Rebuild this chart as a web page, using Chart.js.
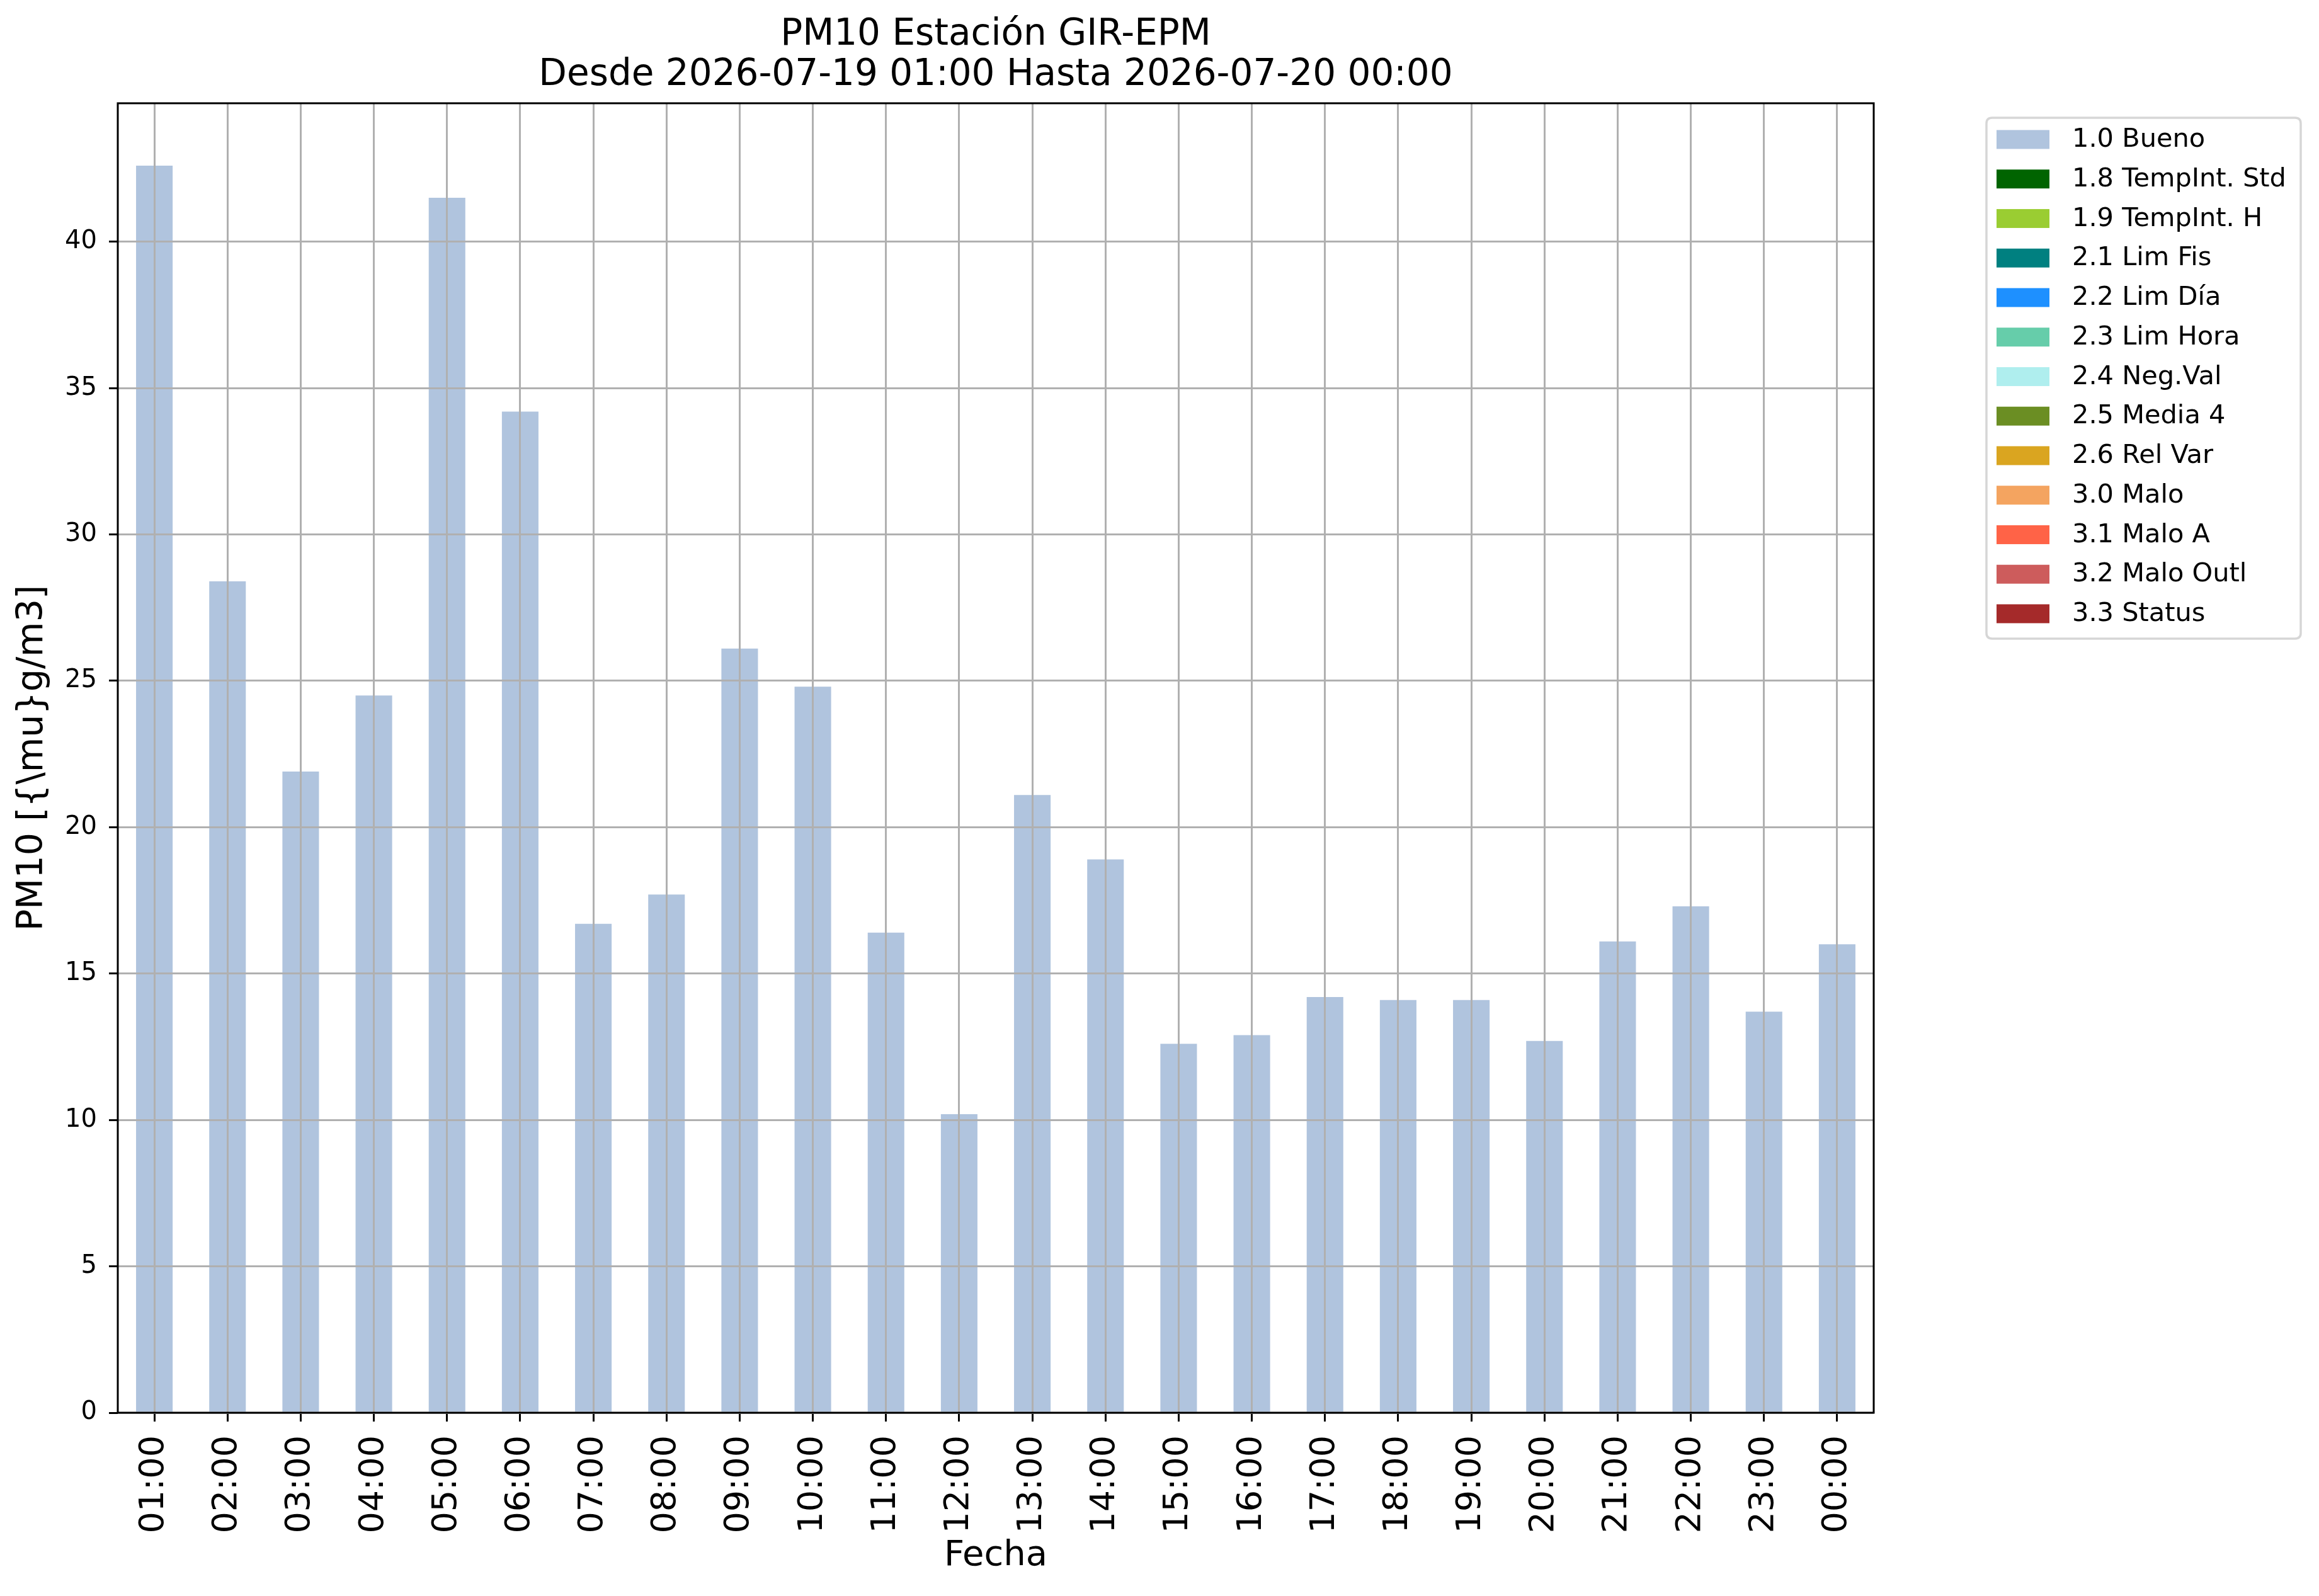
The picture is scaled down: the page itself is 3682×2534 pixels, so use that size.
<!DOCTYPE html>
<html>
<head>
<meta charset="utf-8">
<script src="https://cdn.jsdelivr.net/npm/chart.js@4.4.1/dist/chart.umd.min.js"></script>
<style>
html,body{margin:0;padding:0;background:#fff;}
canvas{display:block;}
</style>
</head>
<body>
<canvas id="c" width="3682" height="2534" style="width:3682px;height:2534px"></canvas>
<script>
// ---- data ----
const hours = ['01:00','02:00','03:00','04:00','05:00','06:00','07:00','08:00','09:00','10:00','11:00','12:00',
               '13:00','14:00','15:00','16:00','17:00','18:00','19:00','20:00','21:00','22:00','23:00','00:00'];
const pm10Bueno = [42.6, 28.4, 21.9, 24.5, 41.5, 34.2, 16.7, 17.7, 26.1, 24.8, 16.4, 10.2,
                   21.1, 18.9, 12.6, 12.9, 14.2, 14.1, 14.1, 12.7, 16.1, 17.3, 13.7, 16.0];
const flagLabels = ['1.0 Bueno','1.8 TempInt. Std','1.9 TempInt. H','2.1 Lim Fis','2.2 Lim Día','2.3 Lim Hora',
                    '2.4 Neg.Val','2.5 Media 4','2.6 Rel Var','3.0 Malo','3.1 Malo A','3.2 Malo Outl','3.3 Status'];
const flagColors = ['#b0c4de','#006400','#9acd32','#008080','#1e90ff','#66cdaa',
                    '#afeeee','#6b8e23','#daa520','#f4a460','#ff6347','#cd5c5c','#a52a2a'];
// only "1.0 Bueno" has values in this period; the other flags have no data
const flagSeries = [pm10Bueno, [], [], [], [], [], [], [], [], [], [], [], []];
const yTicks = [0, 5, 10, 15, 20, 25, 30, 35, 40];
const yMax = 44.73;
const titleLines = ['PM10 Estación GIR-EPM', 'Desde 2026-07-19 01:00 Hasta 2026-07-20 00:00'];
const yLabel = 'PM10 [{\\mu}g/m3]';
const xLabel = 'Fecha';

Chart.defaults.font.family = "'DejaVu Sans', sans-serif";
Chart.defaults.color = '#000';

const datasets = flagLabels.map((lab, i) => ({
  label: lab,
  data: flagSeries[i],
  backgroundColor: flagColors[i],
  borderWidth: 0,
  barPercentage: 0.5,
  categoryPercentage: 1.0
}));

const framePlugin = {
  id: 'frameAndLegend',
  beforeDraw(chart) {
    const ctx = chart.ctx;
    ctx.save();
    ctx.fillStyle = '#ffffff';
    ctx.fillRect(0, 0, chart.width, chart.height);
    ctx.restore();
  },
  afterDraw(chart) {
    const ctx = chart.ctx;
    const a = chart.chartArea;
    ctx.save();
    ctx.strokeStyle = '#000';
    ctx.lineWidth = 3;
    ctx.strokeRect(a.left, a.top, a.right - a.left, a.bottom - a.top);

    // legend (built from the datasets)
    const lx = a.right + 179, ly = a.top + 23, lw = 499, lh = 827, r = 9;
    ctx.beginPath();
    ctx.moveTo(lx + r, ly);
    ctx.lineTo(lx + lw - r, ly);
    ctx.quadraticCurveTo(lx + lw, ly, lx + lw, ly + r);
    ctx.lineTo(lx + lw, ly + lh - r);
    ctx.quadraticCurveTo(lx + lw, ly + lh, lx + lw - r, ly + lh);
    ctx.lineTo(lx + r, ly + lh);
    ctx.quadraticCurveTo(lx, ly + lh, lx, ly + lh - r);
    ctx.lineTo(lx, ly + r);
    ctx.quadraticCurveTo(lx, ly, lx + r, ly);
    ctx.closePath();
    ctx.fillStyle = 'rgba(255,255,255,0.8)';
    ctx.fill();
    ctx.strokeStyle = '#d6d6d6';
    ctx.lineWidth = 3.5;
    ctx.stroke();

    ctx.font = "41.5px 'DejaVu Sans'";
    ctx.textBaseline = 'middle';
    ctx.textAlign = 'left';
    chart.data.datasets.forEach((ds, i) => {
      const cy = ly + 34.5 + i * 62.75;
      ctx.fillStyle = ds.backgroundColor;
      ctx.fillRect(lx + 16, cy - 15, 84, 30);
      ctx.fillStyle = '#000';
      ctx.fillText(ds.label, lx + 136, cy + 1);
    });
    ctx.restore();
  }
};

new Chart(document.getElementById('c'), {
  type: 'bar',
  data: { labels: hours, datasets },
  plugins: [framePlugin],
  options: {
    responsive: false,
    animation: false,
    devicePixelRatio: 1,
    events: [],
    layout: { padding: { left: 0, top: 0, right: 707, bottom: 0 } },
    plugins: {
      legend: { display: false },
      tooltip: { enabled: false },
      title: {
        display: true,
        text: titleLines,
        fullSize: false,
        color: '#000',
        font: { size: 58, weight: 'normal', lineHeight: 1.103 },
        padding: { top: 24, bottom: 12 }
      }
    },
    scales: {
      x: {
        stacked: true,
        offset: true,
        grid: { offset: false, color: '#b0b0b0', lineWidth: 3, tickColor: '#000', tickWidth: 3, tickLength: 14, z: 1 },
        border: { display: false },
        ticks: { autoSkip: false, minRotation: 90, maxRotation: 90, padding: 22, color: '#000', font: { size: 54 } },
        title: { display: true, text: xLabel, color: '#000', font: { size: 56 }, padding: { top: 0, bottom: 30 } },
        afterFit: (s) => { s.height = 291; }
      },
      y: {
        stacked: true,
        min: 0,
        max: yMax,
        grid: { color: '#b0b0b0', lineWidth: 3, tickColor: '#000', tickWidth: 3, tickLength: 14, z: 1 },
        border: { display: false },
        afterBuildTicks: (s) => { s.ticks = yTicks.map(v => ({ value: v })); },
        ticks: { padding: 19, color: '#000', font: { size: 40 } },
        title: { display: true, text: yLabel, color: '#000', font: { size: 57 }, padding: { top: 18, bottom: 0 } },
        afterFit: (s) => { s.width = 187; }
      }
    }
  }
});
</script>
</body>
</html>
